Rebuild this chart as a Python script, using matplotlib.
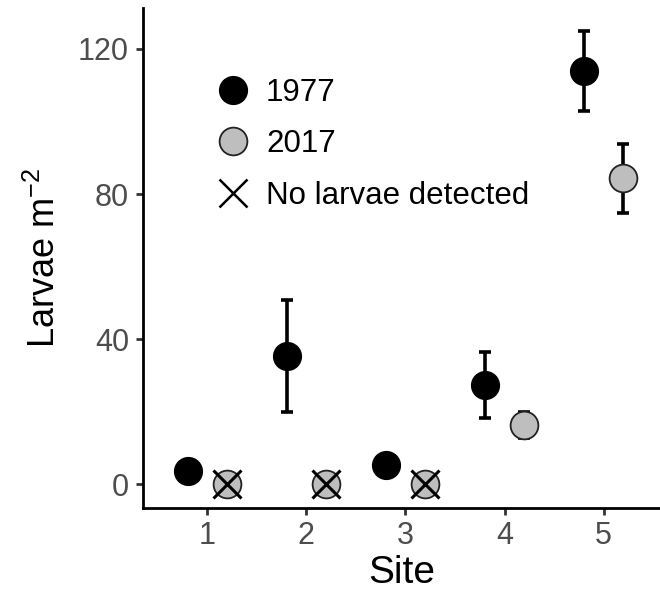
import matplotlib
matplotlib.use("Agg")
import matplotlib.pyplot as plt
from matplotlib.lines import Line2D
import numpy as np

plt.rcParams['font.family'] = ['Liberation Sans', 'DejaVu Sans']
plt.rcParams['mathtext.fontset'] = 'custom'
plt.rcParams['mathtext.rm'] = 'Liberation Sans'

sites = [1, 2, 3, 4, 5]
mean_1977 = [3.6, 35.3, 5.3, 27.3, 114.0]
lo_1977 = [3.6, 19.9, 5.3, 18.1, 102.9]
hi_1977 = [3.6, 50.8, 5.3, 36.5, 125.0]
mean_2017 = [0, 0, 0, 16.3, 84.3]
lo_2017 = [0, 0, 0, 12.7, 74.8]
hi_2017 = [0, 0, 0, 19.9, 93.8]
none_detected_2017 = [True, True, True, False, False]
offset = 0.2

fig = plt.figure(figsize=(6.6, 5.92), dpi=100)
ax = fig.add_axes([143/660, 84/592, 517/660, 500/592])

x77 = np.array(sites) - offset
x17 = np.array(sites) + offset
m77 = np.array(mean_1977); m17 = np.array(mean_2017)
err77 = [m77 - np.array(lo_1977), np.array(hi_1977) - m77]
err17 = [m17 - np.array(lo_2017), np.array(hi_2017) - m17]

ax.errorbar(x77, m77, yerr=err77, fmt='none', ecolor='black', elinewidth=2.6,
            capsize=4.5, capthick=2.6, zorder=2)
ax.errorbar(x17, m17, yerr=err17, fmt='none', ecolor='black', elinewidth=2.6,
            capsize=4.5, capthick=2.6, zorder=2)
ax.plot(x77, m77, 'o', ms=20, mfc='black', mec='black', mew=1, ls='none', zorder=3)
ax.plot(x17, m17, 'o', ms=20, mfc='#BEBEBE', mec='#222222', mew=1.3, ls='none', zorder=3)
nd = np.array(none_detected_2017)
ax.plot(x17[nd], m17[nd], 'x', ms=20, mec='black', mew=2.2, ls='none', zorder=4)

ax.set_xlim(0.35, 5.57)
ax.set_ylim(-6.6, 131.3)
ax.set_xticks(sites)
ax.set_yticks([0, 40, 80, 120])
for s in ['top', 'right']:
    ax.spines[s].set_visible(False)
for s in ['left', 'bottom']:
    ax.spines[s].set_linewidth(2.0)
    ax.spines[s].set_color('black')
ax.tick_params(axis='both', length=5, width=2, color='#333333',
               labelsize=22, labelcolor='#4D4D4D')
ax.tick_params(axis='x', pad=4)
ax.tick_params(axis='y', pad=5)
ax.set_xlabel('Site', fontsize=28, labelpad=3)
ax.set_ylabel('Larvae m$^{\\mathregular{-2}}$', fontsize=26, labelpad=11)

handles = [
    Line2D([], [], marker='o', ls='none', ms=20, mfc='black', mec='black'),
    Line2D([], [], marker='o', ls='none', ms=20, mfc='#BEBEBE', mec='#222222', mew=1.3),
    Line2D([], [], marker='x', ls='none', ms=20, mec='black', mew=1.8),
]
ax.legend(handles, ['1977', '2017', 'No larvae detected'], loc='upper left',
          bbox_to_anchor=(0.105, 0.885), frameon=False, fontsize=22.5,
          handletextpad=0.3, labelspacing=0.68, handlelength=1.5, borderaxespad=0)

fig.savefig('out.png', dpi=100)
